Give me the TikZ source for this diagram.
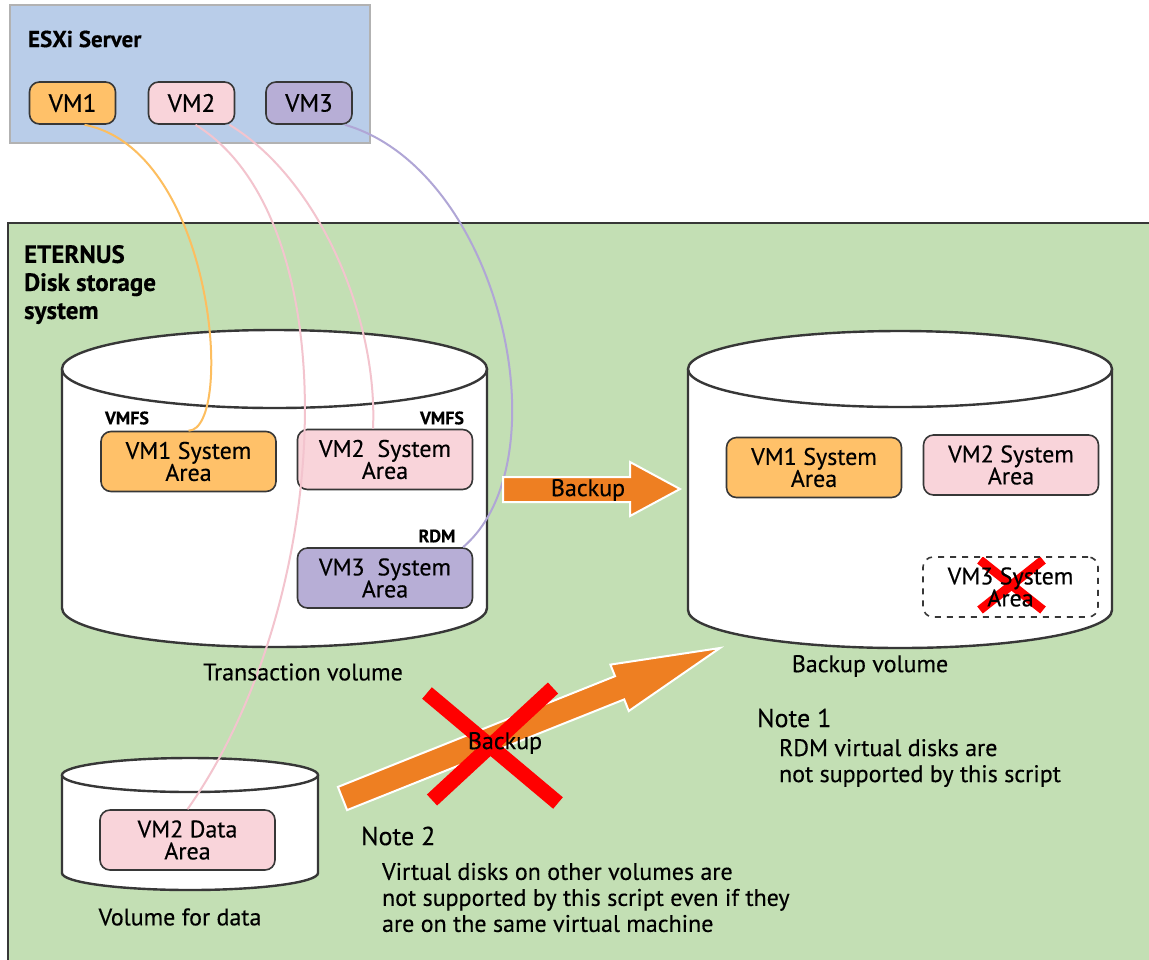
\documentclass[tikz,border=0pt]{standalone}
\usepackage{fontspec}
\setmainfont{PT Sans}[FakeBold=0.35]

\definecolor{esxblue}{RGB}{185,205,233}
\definecolor{storgreen}{RGB}{195,223,180}
\definecolor{vmorange}{RGB}{255,193,105}
\definecolor{vmpink}{RGB}{249,212,218}
\definecolor{vmlilac}{RGB}{183,174,214}
\definecolor{arrorange}{RGB}{238,127,34}
\definecolor{lineorange}{RGB}{253,190,95}
\definecolor{linepink}{RGB}{243,196,206}
\definecolor{linelilac}{RGB}{176,166,214}
\definecolor{edge}{RGB}{55,55,55}

\begin{document}
\begin{tikzpicture}[x=0.5pt, y=-0.5pt,
		every node/.style={font=\fontsize{12}{11}\selectfont},
		vmbox/.style={draw=edge, line width=0.8pt, rounded corners=5pt, minimum width=43pt, minimum height=21pt, inner sep=0pt, font=\fontsize{12.5}{12}\selectfont},
		areabox/.style={draw=edge, line width=0.8pt, rounded corners=5pt, minimum width=87.5pt, minimum height=30pt, inner sep=0pt, align=center},
		drum/.style={fill=white, draw=edge, line width=1.2pt},
		link/.style={line width=1pt},
		bigarrow/.style={fill=arrorange, draw=white, line width=1pt},
		nope/.style={draw=red, line width=7.5pt},
		tag/.style={font=\fontsize{9}{9}\selectfont\bfseries},
		notetxt/.style={anchor=west, align=left, font=\fontsize{12}{13}\selectfont}]
			\fill[white] (0,0) rectangle (1149,959);
			\useasboundingbox (0,0) rectangle (1149,959);
			\draw[fill=storgreen, draw=edge, line width=1pt] (8,223) rectangle (1180,990);
			\draw[fill=esxblue, draw=black!30, line width=0.6pt] (10,5) rectangle (370,143);
			\node[anchor=west, font=\fontsize{11.5}{12}\selectfont\bfseries] (esx) at (21,39) {ESXi Server};
			\node[anchor=north west, align=left, font=\fontsize{12.5}{14}\selectfont\bfseries] (eternus) at (17,238) {ETERNUS\\Disk storage\\system};
			\node[vmbox, fill=vmorange] (vm1) at (72.5,103) {VM1};
			\node[vmbox, fill=vmpink] (vm2) at (191.5,103) {VM2};
			\node[vmbox, fill=vmlilac] (vm3) at (309,103) {VM3};

			\path[drum] (62,369) -- (62,608) arc[start angle=180, end angle=0, x radius=212.5, y radius=39] -- (487,369);
			\draw[drum] (274.5,369) ellipse[x radius=212.5, y radius=39];
			\path[drum] (688,369) -- (688,610) arc[start angle=180, end angle=0, x radius=212, y radius=38] -- (1112,369);
			\draw[drum] (900,369) ellipse[x radius=212, y radius=38];
			\path[drum] (62,775) -- (62,873) arc[start angle=180, end angle=0, x radius=128, y radius=17] -- (318,775);
			\draw[drum] (190,775) ellipse[x radius=128, y radius=17];

			\node[areabox, fill=vmorange] (tvm1) at (188.5,461.5) {VM1 System\\Area};
			\node[areabox, fill=vmpink] (tvm2) at (385,459.5) {VM2~ System\\Area};
			\node[areabox, fill=vmlilac] (tvm3) at (385,578) {VM3~ System\\Area};
			\node[areabox, fill=vmorange] (bvm1) at (814,467.5) {VM1 System\\Area};
			\node[areabox, fill=vmpink] (bvm2) at (1011,465) {VM2 System\\Area};
			\node[areabox, dashed, fill=white, path picture={
				\draw[solid, red, line width=4.5pt] ([shift={(-15.25pt,13.5pt)}]path picture bounding box.center) -- ([shift={(16.25pt,-11.5pt)}]path picture bounding box.center);
				\draw[solid, red, line width=4.5pt] ([shift={(16.25pt,13.5pt)}]path picture bounding box.center) -- ([shift={(-15.25pt,-11.5pt)}]path picture bounding box.center);
			}] (bvm3) at (1010.5,587) {VM3 System\\Area};
			\node[areabox, fill=vmpink] (dvm2) at (187.5,840) {VM2 Data\\Area};

			\draw[link, lineorange] ([xshift=6pt]vm1.south) .. controls (215,150) and (235,430) .. (tvm1.north);
			\draw[link, linepink] ([xshift=2pt]vm2.south) .. controls (350,220) and (335,600) .. (dvm2.north);
			\draw[link, linepink] ([xshift=19pt]vm2.south) .. controls (320,180) and (378,320) .. ([xshift=-6pt]tvm2.north);
			\draw[link, linelilac] ([xshift=18pt]vm3.south) .. controls (500,170) and (565,460) .. ([xshift=39pt]tvm3.north);

			\node[tag] (vmfs1) at (127,418) {VMFS};
			\node[tag] (vmfs2) at (442,418) {VMFS};
			\node[tag] (rdm) at (437,536) {RDM};

			\draw[bigarrow] (503,477) -- (630,477) -- (630,462) -- (680,489) -- (630,516) -- (630,502) -- (503,502) -- cycle;
			\node (bk1) at (588,490) {Backup};
			\draw[bigarrow] (337.9,786.9) -- (615,676.2) -- (610.4,664.6) -- (720,648) -- (628.8,711) -- (624.2,699.4) -- (347.1,810.1) -- cycle;
			\draw[nope] (427,693) -- (558,803);
			\draw[nope] (553,688) -- (432,800);
			\node (bk2) at (505,743) {Backup};

			\node (tvol) at (303,672) {Transaction volume};
			\node (bvol) at (870,666) {Backup volume};
			\node (dvol) at (180,917) {Volume for data};
			\node[anchor=west, font=\fontsize{13}{13}\selectfont] (note1) at (750,718) {Note 1};
			\node[notetxt] (note1txt) at (772,763) {RDM virtual disks are\\not supported by this script};
			\node[anchor=west, font=\fontsize{13}{13}\selectfont] (note2) at (354,836) {Note 2};
			\node[notetxt] (note2txt) at (375,897.5) {Virtual disks on other volumes are\\not supported by this script even if they\\are on the same virtual machine};
		\end{tikzpicture}
\end{document}
